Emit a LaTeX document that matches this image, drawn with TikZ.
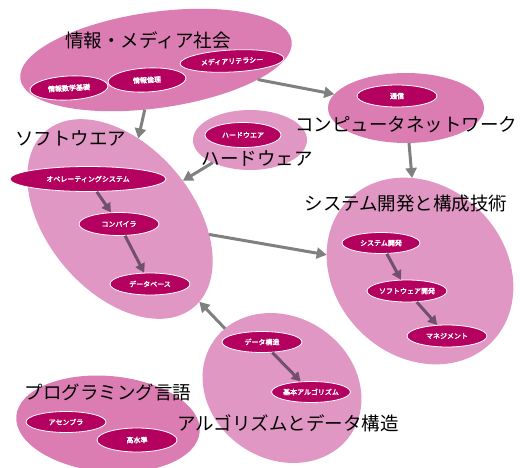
\documentclass[tikz,border=0pt]{standalone}
\usepackage{fontspec}
\newfontfamily\jp{Noto Sans CJK JP}
\newfontfamily\jpbold{Noto Sans CJK JP}[FakeBold=3]
\usetikzlibrary{shapes.geometric}
\usetikzlibrary{arrows.meta}
\definecolor{fielddark}{HTML}{DB7DB3}
\definecolor{fieldlight}{HTML}{E197C4}
\definecolor{topicfill}{HTML}{B4005E}
\definecolor{linkgray}{HTML}{808080}
\definecolor{flowgray}{HTML}{70506A}

\begin{document}
\begin{tikzpicture}[x=1pt,y=1pt,
    field/.style={ellipse, inner sep=0pt, outer sep=0pt},
    topic/.style={ellipse, draw=white, line width=0.8pt, fill=topicfill, text=white,
      font=\jpbold\fontsize{7}{8}\selectfont, inner sep=0pt},
    heading/.style={font=\jp\fontsize{18.5}{20}\selectfont, inner sep=0pt},
    link/.style={-{Triangle[length=10pt,width=11pt]}, line width=3pt, draw=linkgray, fill=linkgray},
    flow/.style={-{Triangle[length=9pt,width=10pt]}, line width=3pt, draw=flowgray, fill=flowgray}]
    \useasboundingbox (0,0) rectangle (520,467);

    % subject areas
    \node[field, fill=fielddark, minimum width=274pt, minimum height=96pt, rotate=8] (info) at (156,407) {};
    \node[field, fill=fielddark, minimum width=156pt, minimum height=70pt] (network) at (406,359) {};
    \node[field, fill=fieldlight, minimum width=114pt, minimum height=60pt] (hardware) at (250,327) {};
    \node[field, fill=fieldlight, minimum width=230pt, minimum height=146pt, rotate=-50] (software) at (120,248) {};
    \node[field, fill=fieldlight, minimum width=202pt, minimum height=170pt, rotate=-45] (system) at (420,196) {};
    \node[field, fill=fieldlight, minimum width=166pt, minimum height=142pt, rotate=-34] (algorithm) at (282,79) {};
    \node[field, fill=fielddark, minimum width=184pt, minimum height=96pt, rotate=-5] (language) at (108,43) {};

    % links between areas
    \draw[link] (info) -- (network);
    \draw[link] (info) -- (software);
    \draw[link] (hardware) -- (software);
    \draw[link] (network) -- (system);
    \draw[link] (software) -- (system);
    \draw[link] (algorithm) -- (software);

    % topics
    \node[topic, minimum width=78pt, minimum height=24pt, rotate=3] (infomath) at (69,379) {情報数学基礎};
    \node[topic, minimum width=78pt, minimum height=24pt, rotate=3] (ethics) at (147,387) {情報倫理};
    \node[topic, minimum width=104pt, minimum height=22pt, rotate=3] (literacy) at (232,406) {メディアリテラシー};
    \node[topic, minimum width=80pt, minimum height=22pt] (comm) at (397,371) {通信};
    \node[topic, minimum width=76pt, minimum height=25pt] (hwtopic) at (243,332) {ハードウエア};
    \node[topic, minimum width=156pt, minimum height=25pt] (os) at (88,288) {オペレーティングシステム};
    \node[topic, minimum width=80pt, minimum height=23pt] (compiler) at (119,243) {コンパイラ};
    \node[topic, minimum width=80pt, minimum height=22pt] (database) at (150,183) {データベース};
    \node[topic, minimum width=78pt, minimum height=21pt] (sysdev) at (381,224) {システム開発};
    \node[topic, minimum width=80pt, minimum height=22pt] (swdev) at (407,176) {ソフトウェア開発};
    \node[topic, minimum width=80pt, minimum height=22pt] (manage) at (447,131) {マネジメント};
    \node[topic, minimum width=80pt, minimum height=21pt] (datastruct) at (262,125) {データ構造};
    \node[topic, minimum width=78pt, minimum height=21pt] (basicalgo) at (311,75) {基本アルゴリズム};
    \node[topic, minimum width=80pt, minimum height=21pt] (assembler) at (66,45) {アセンブラ};
    \node[topic, minimum width=80pt, minimum height=24pt] (highlevel) at (137,27) {高水準};

    % order inside areas
    \draw[flow] (os) -- (compiler);
    \draw[flow] (compiler) -- (database);
    \draw[flow] (sysdev) -- (swdev);
    \draw[flow] (swdev) -- (manage);
    \draw[flow] (datastruct) -- (basicalgo);

    % area titles
    \node[heading] (infohead) at (148,427) {情報・メディア社会};
    \node[heading] (nethead) at (406,342) {コンピュータネットワーク};
    \node[heading] (hwhead) at (257,309) {ハードウェア};
    \node[heading] (swhead) at (71,329) {ソフトウエア};
    \node[heading] (syshead) at (406,263) {システム開発と構成技術};
    \node[heading] (langhead) at (108,75) {プログラミング言語};
    \node[heading] (algohead) at (288,44) {アルゴリズムとデータ構造};
\end{tikzpicture}
\end{document}
